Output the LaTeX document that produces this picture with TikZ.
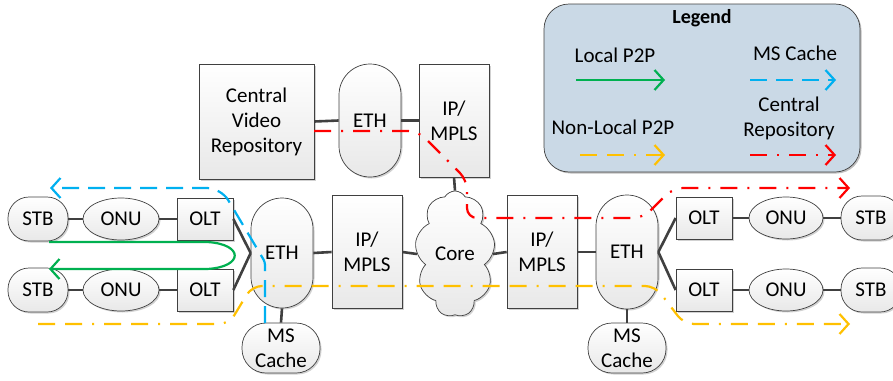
\documentclass[tikz,border=0pt]{standalone}
\usepackage{fontspec}
\setmainfont{Carlito}
\usetikzlibrary{shapes.geometric,shapes.symbols,arrows.meta,shadows}

\definecolor{pgreen}{HTML}{00B050}
\definecolor{pblue}{HTML}{00B0F0}
\definecolor{pyellow}{HTML}{FFC000}
\definecolor{pred}{HTML}{FF0000}
\definecolor{legendfill}{HTML}{CAD9E6}
\definecolor{edge}{HTML}{404040}

\begin{document}
\begin{tikzpicture}[x=1pt,y=-1pt,
  base/.style={draw=edge, line width=0.7pt, top color=white, bottom color=black!9,
    align=center, inner sep=0pt, font=\fontsize{21}{25}\selectfont,
    drop shadow={shadow xshift=1.5pt, shadow yshift=-1.5pt, opacity=0.18, fill=black}},
  box/.style 2 args={base, rectangle, minimum width=#1, minimum height=#2},
  pill/.style 2 args={base, rectangle, rounded corners=#1/2, minimum width=#1, minimum height=#2},
  stadium/.style n args={3}{base, rectangle, rounded corners=#3, minimum width=#1, minimum height=#2},
  oval/.style={base, ellipse, minimum width=76pt, minimum height=42pt},
  link/.style={draw=edge, line width=2.6pt},
  flow/.style={line width=2.2pt, -{Straight Barb[length=9pt,width=20pt,line width=2.2pt]}},
  p2plocal/.style={flow, pgreen},
  cacheflow/.style={flow, pblue, dash pattern=on 17pt off 9pt},
  p2premote/.style={flow, pyellow, dash pattern=on 17pt off 10pt on 17pt off 10pt on 2pt off 10pt},
  central/.style={flow, pred, dash pattern=on 17pt off 10pt on 2pt off 10pt},
  legtext/.style={font=\fontsize{21}{25}\selectfont, align=center, inner sep=0pt}
]
\useasboundingbox (0,0) rectangle (893,380);

% ---------- legend ----------
\node[draw=edge, line width=0.7pt, fill=legendfill, rounded corners=25pt,
  minimum width=316pt, minimum height=168pt, inner sep=0pt,
  drop shadow={shadow xshift=1.5pt, shadow yshift=-1.5pt, opacity=0.25, fill=black}]
  (legend) at (702,88) {};
\node[font=\bfseries\fontsize{20}{24}\selectfont, inner sep=0pt] (legtitle) at (702,18) {Legend};
\node[legtext] (lgA) at (615,55) {Local P2P};
\node[legtext] (lgB) at (795,53) {MS Cache};
\node[legtext] (lgC) at (613,127) {Non-Local P2P};
\node[legtext] (lgD) at (789,118) {Central\\Repository};
\coordinate (la1) at (576,80);  \coordinate (la2) at (665,80);
\coordinate (lb1) at (750,80);  \coordinate (lb2) at (836,80);
\coordinate (lc1) at (580,155); \coordinate (lc2) at (665,155);
\coordinate (ld1) at (750,155); \coordinate (ld2) at (836,155);
\draw[p2plocal] (la1) -- (la2);
\draw[cacheflow] (lb1) -- (lb2);
\draw[p2premote] (lc1) -- (lc2);
\draw[central] (ld1) -- (ld2);

% ---------- central repository branch ----------
\node[box={115pt}{115pt}] (cvr) at (256.5,121.5) {Central\\Video\\Repository};
\node[pill={62pt}{113pt}] (ethT) at (370,120.5) {ETH};
\node[box={70pt}{113pt}] (ipT) at (454,120.5) {IP/\\MPLS};

% ---------- left access ----------
\node[stadium={60pt}{44pt}{21pt}] (stbA) at (38,219) {STB};
\node[oval] (onuA) at (121,219) {ONU};
\node[box={56pt}{42pt}] (oltA) at (205,219) {OLT};
\node[stadium={60pt}{44pt}{21pt}] (stbB) at (38,290) {STB};
\node[oval] (onuB) at (121,290) {ONU};
\node[box={56pt}{42pt}] (oltB) at (205,290) {OLT};
\node[pill={62pt}{110pt}] (ethL) at (282,253) {ETH};
\node[stadium={78pt}{50pt}{24pt}] (cacheL) at (281,348) {MS\\Cache};

% ---------- core ----------
\node[box={70pt}{113pt}] (ipL) at (367,252) {IP/\\MPLS};
\node[base, cloud, cloud puffs=9, cloud puff arc=120, aspect=0.62,
  minimum width=80pt, minimum height=126pt] (core) at (455,254) {Core};
\node[box={70pt}{113pt}] (ipR) at (542,252) {IP/\\MPLS};

% ---------- right access ----------
\node[pill={62pt}{114pt}] (ethR) at (627,252) {ETH};
\node[stadium={78pt}{50pt}{24pt}] (cacheR) at (627,348) {MS\\Cache};
\node[box={56pt}{42pt}] (oltC) at (704,218) {OLT};
\node[oval, minimum width=74pt] (onuC) at (786,218) {ONU};
\node[stadium={60pt}{44pt}{21pt}] (stbC) at (871,218) {STB};
\node[box={56pt}{42pt}] (oltD) at (704,290) {OLT};
\node[oval, minimum width=74pt] (onuD) at (786,290) {ONU};
\node[stadium={60pt}{44pt}{21pt}] (stbD) at (871,290) {STB};

% ---------- links ----------
\draw[link] (cvr.east) -- (ethT.west);
\draw[link] (ethT.east) -- (ipT.west);
\draw[link] (ipT.south) -- (core.north);
\draw[link] (stbA.east) -- (onuA.west);
\draw[link] (onuA.east) -- (oltA.west);
\draw[link] (stbB.east) -- (onuB.west);
\draw[link] (onuB.east) -- (oltB.west);
\draw[link] (oltA.east) -- (ethL.west);
\draw[link] (oltB.east) -- (ethL.west);
\draw[link] (ethL.south) -- (cacheL.north);
\draw[link] (ethL.east) -- (ipL.west);
\draw[link] (ipL.east) -- (core.west);
\draw[link] (core.east) -- (ipR.west);
\draw[link] (ipR.east) -- (ethR.west);
\draw[link] (ethR.south) -- (cacheR.north);
\draw[link] (ethR.east) -- (oltC.west);
\draw[link] (ethR.east) -- (oltD.west);
\draw[link] (oltC.east) -- (onuC.west);
\draw[link] (onuC.east) -- (stbC.west);
\draw[link] (oltD.east) -- (onuD.west);
\draw[link] (onuD.east) -- (stbD.west);

% ---------- traffic flows ----------
% local peer-to-peer turns round at the OLT side
\coordinate (gS) at (49,242);
\coordinate (gE) at (49,269);
\draw[p2plocal] (gS) -- (207,242) .. controls (244,244) and (244,267) .. (207,269) -- (gE);

% served from the local MS cache
\coordinate (bS) at (265,323);
\coordinate (bE) at (50,188);
\draw[cacheflow, rounded corners=3pt] (bS) -- (265,262)
  [rounded corners=14pt] -- (221,188) -- (bE);

% non-local peer-to-peer across the core
\coordinate (yS) at (38,324);
\coordinate (yE) at (850,324);
\draw[p2premote, rounded corners=10pt] (yS) -- (229,324) -- (252,286) -- (655,286)
  -- (684,324) -- (yE);

% from the central repository down to the subscriber
\coordinate (rS) at (314,131);
\coordinate (rE) at (850,188);
\draw[central, rounded corners=10pt] (rS) -- (418,131) -- (467,180) -- (467,218)
  -- (643,218) -- (673,188) -- (rE);
\end{tikzpicture}
\end{document}
